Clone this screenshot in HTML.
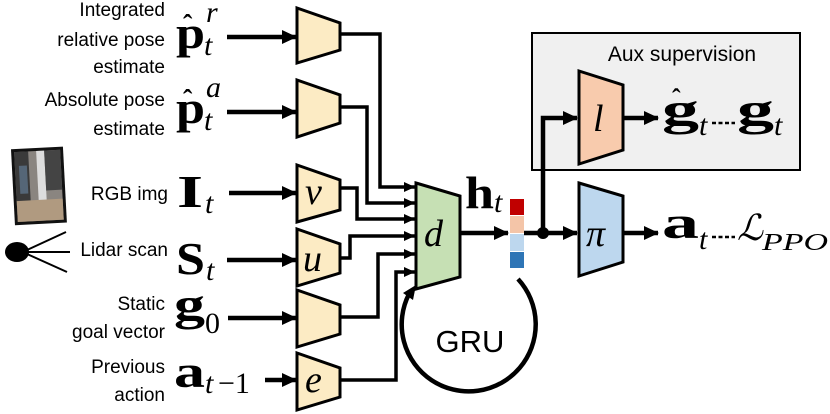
<!DOCTYPE html>
<html><head><meta charset="utf-8"><style>
html,body{margin:0;padding:0;background:#fff;}
svg{display:block;}
.lab{font-family:"Liberation Sans",sans-serif;font-size:19px;fill:#000;}
.m{font-family:"Liberation Serif",serif;font-weight:bold;font-size:46px;fill:#000;}
.s{font-family:"Liberation Serif",serif;font-style:italic;font-size:30px;fill:#000;}
.v{font-family:"Liberation Serif",serif;font-style:italic;font-size:38px;fill:#000;}
</style></head><body>
<svg width="830" height="414" viewBox="0 0 830 414" xmlns="http://www.w3.org/2000/svg">
<defs>
<marker id="ah" markerUnits="userSpaceOnUse" markerWidth="16" markerHeight="16" refX="14" refY="8" orient="auto">
<path d="M0,1 L15,8 L0,15 Z" fill="#000"/></marker>
<marker id="as" markerUnits="userSpaceOnUse" markerWidth="12" markerHeight="12" refX="11" refY="6" orient="auto">
<path d="M0,1 L11,6 L0,11 Z" fill="#000"/></marker>
</defs>
<rect x="532" y="33" width="268" height="137" fill="#f0f0f0" stroke="#000" stroke-width="2"/>
<text x="682" y="61" class="lab" style="font-size:21px" text-anchor="middle">Aux supervision</text>

<g class="lab" text-anchor="end">
<text x="165" y="16">Integrated</text>
<text x="165" y="46">relative pose</text>
<text x="165" y="73">estimate</text>
<text x="165" y="106">Absolute pose</text>
<text x="165" y="135">estimate</text>
<text x="168" y="200">RGB img</text>
<text x="168" y="256">Lidar scan</text>
<text x="165" y="310">Static</text>
<text x="165" y="338">goal vector</text>
<text x="165" y="373">Previous</text>
<text x="165" y="401">action</text>
</g>
<!-- math inputs -->
<text x="176" y="48" class="m" textLength="29" lengthAdjust="spacingAndGlyphs">p</text>
<text x="183" y="34" class="m" style="font-size:28px">ˆ</text>
<text x="206" y="22" class="s">r</text><text x="204" y="55" class="s">t</text>
<text x="176" y="123" class="m" textLength="29" lengthAdjust="spacingAndGlyphs">p</text>
<text x="183" y="109" class="m" style="font-size:28px">ˆ</text>
<text x="206" y="97" class="s">a</text><text x="204" y="130" class="s">t</text>
<text x="177" y="207" class="m" textLength="26" lengthAdjust="spacingAndGlyphs">I</text><text x="205" y="213" class="s">t</text>
<text x="176" y="274" class="m" textLength="29" lengthAdjust="spacingAndGlyphs">S</text><text x="206" y="280" class="s">t</text>
<text x="174" y="320" class="m" textLength="31" lengthAdjust="spacingAndGlyphs">g</text><text x="205" y="333" class="s" style="font-style:normal">0</text>
<text x="174" y="387" class="m" textLength="31" lengthAdjust="spacingAndGlyphs">a</text><text x="205" y="393" class="s">t</text><text x="218" y="393" class="s" style="font-style:normal">−1</text>

<!-- image & lidar -->
<g transform="rotate(-3 37 187)">
<rect x="13" y="148" width="52" height="76" fill="#111" />
<rect x="16" y="151" width="46" height="70" fill="#8a8580"/>
<rect x="16" y="151" width="14" height="70" fill="#3a3a3a"/>
<rect x="20" y="165" width="8" height="28" fill="#567"/>
<rect x="38" y="151" width="8" height="55" fill="#ddd"/>
<rect x="46" y="151" width="16" height="40" fill="#444"/>
<rect x="16" y="200" width="46" height="21" fill="#b09a80"/>
</g>
<ellipse cx="17" cy="252" rx="12" ry="10" fill="#000"/>
<path d="M27,250 L66,232 M27,252 L70,252 M27,254 L67,272" stroke="#000" stroke-width="2" fill="none"/>

<g stroke="#000" stroke-width="4.5" fill="none" marker-end="url(#ah)">
<path d="M227,37 H296"/>
<path d="M227,112 H296"/>
<path d="M229,193 H296"/>
<path d="M227,260 H296"/>
<path d="M228,318 H296"/>
<path d="M265,380 H296"/>
</g>
<g fill="#fcebc4" stroke="#000" stroke-width="3">
<polygon points="297,8 340,23 340,50 297,63"/>
<polygon points="297,80 340,95 340,123 297,137"/>
<polygon points="297,165 340,180 340,210 297,222"/>
<polygon points="297,229 340,244 340,273 297,286"/>
<polygon points="297,290 340,305 340,334 297,347"/>
<polygon points="297,353 340,368 340,397 297,410"/>
</g>
<text x="305" y="204" class="v">v</text>
<text x="303" y="271" class="v">u</text>
<text x="305" y="392" class="v">e</text>

<g stroke="#000" stroke-width="3.5" fill="none" marker-end="url(#as)">
<path d="M340,34 H380 V187 H415"/>
<path d="M340,107 H367 V203 H415"/>
<path d="M340,188 H357 V219 H415"/>
<path d="M340,258 H350 V236 H415"/>
<path d="M340,317 H378 V254 H415"/>
<path d="M340,380 H396 V272 H415"/>
</g>
<polygon points="416,183 460,196 460,277 416,289" fill="#c6e0b4" stroke="#000" stroke-width="3"/>
<text x="424" y="246" class="v">d</text>
<path d="M460,233 H508" stroke="#000" stroke-width="4.5" marker-end="url(#ah)"/>
<text x="465" y="208" class="m" textLength="29" lengthAdjust="spacingAndGlyphs">h</text><text x="494" y="212" class="s">t</text>
<rect x="510" y="199" width="14" height="16" fill="#c00000"/>
<rect x="510" y="216" width="14" height="17" fill="#f4c5a8"/>
<rect x="510" y="234" width="14" height="17" fill="#bdd7ee"/>
<rect x="510" y="252" width="14" height="16" fill="#2e75b6"/>
<path d="M518,279 A67,67 0 1 1 409,294" stroke="#000" stroke-width="4.5" fill="none"/>
<path d="M403,293 L416,285 L413,300 Z" fill="#000"/>
<text x="470" y="352" class="lab" style="font-size:31px" text-anchor="middle">GRU</text>

<path d="M524,233 H577" stroke="#000" stroke-width="4.5" fill="none" marker-end="url(#ah)"/>
<circle cx="543" cy="233" r="6" fill="#000"/>
<path d="M543,233 V118 H577" stroke="#000" stroke-width="4.5" fill="none" marker-end="url(#ah)"/>
<polygon points="579,71 623,85 623,150 579,164" fill="#f8cbad" stroke="#000" stroke-width="3"/>
<text x="593" y="131" class="v">l</text>
<polygon points="579,183 623,196 623,262 579,276" fill="#bdd7ee" stroke="#000" stroke-width="3"/>
<text x="586" y="246" class="v">π</text>
<path d="M623,118 H658" stroke="#000" stroke-width="4.5" marker-end="url(#ah)"/>
<path d="M623,233 H658" stroke="#000" stroke-width="4.5" marker-end="url(#ah)"/>
<!-- outputs -->
<text x="662" y="125" class="m" textLength="37" lengthAdjust="spacingAndGlyphs">g</text>
<text x="672" y="107" class="m" style="font-size:26px">ˆ</text>
<text x="699" y="135" class="s">t</text>
<path d="M712,123 H735" stroke="#000" stroke-width="2.5" stroke-dasharray="4,2.5"/>
<text x="737" y="125" class="m" textLength="37" lengthAdjust="spacingAndGlyphs">g</text><text x="774" y="135" class="s">t</text>
<text x="662" y="238" class="m" textLength="37" lengthAdjust="spacingAndGlyphs">a</text><text x="699" y="249" class="s">t</text>
<path d="M712,237 H735" stroke="#000" stroke-width="2.5" stroke-dasharray="4,2.5"/>
<text x="737" y="240" class="s" style="font-size:36px">ℒ</text>
<text x="762" y="250" class="s" style="font-size:24px" textLength="66" lengthAdjust="spacingAndGlyphs">PPO</text>
</svg>
</body></html>
